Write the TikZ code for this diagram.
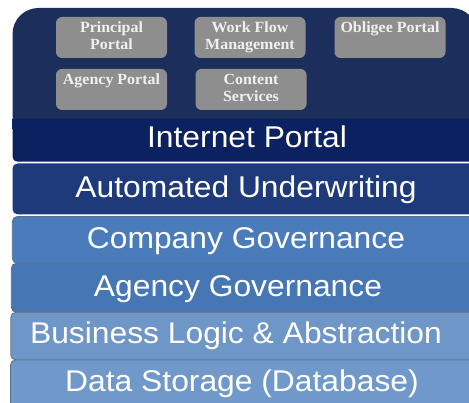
\documentclass[tikz,border=0pt]{standalone}
\usepackage{fontspec}
\usepackage{graphicx}
\setmainfont{Liberation Serif}
\setsansfont{Liberation Sans}
\definecolor{cTop}{HTML}{1B2E5C}
\definecolor{cBand}{HTML}{0B2160}
\definecolor{cAU}{HTML}{1F3A7B}
\definecolor{cCG}{HTML}{4A7BBA}
\definecolor{cAG}{HTML}{4676B3}
\definecolor{cBL}{HTML}{6E96C6}
\definecolor{cDS}{HTML}{7099C9}
\definecolor{cGray}{HTML}{8E8E8E}
\definecolor{cEdge}{HTML}{5D6F8A}
\newcommand\gstrut{\rule[-5pt]{0pt}{17pt}}
\newcommand\laytext[1]{\scalebox{1.06}[1]{#1}}
\newcommand\gtext[1]{\scalebox{1.03}[1]{#1}}
\begin{document}
\begin{tikzpicture}[x=1pt,y=-1pt,
  gbox/.style={fill=cGray, rounded corners=6pt, minimum width=111pt, minimum height=41pt,
    inner sep=0pt, align=center, text=white!94!black,
    font=\bfseries\fontsize{15.5}{17}\selectfont},
  layer/.style={rounded corners=5pt, inner sep=0pt},
  edged/.style={draw=cEdge, line width=0.8pt},
  laylabel/.style={anchor=base, inner sep=0pt, text=white,
    font=\sffamily\fontsize{30}{36}\selectfont}]
\useasboundingbox (0,0) rectangle (469,403);
\clip (0,0) rectangle (469,403);
\fill[white] (0,0) rectangle (469,403);
% portal background
\node[fill=cTop, rounded corners=26pt, minimum width=465pt, minimum height=142pt, inner sep=0pt]
  (pbg) at (245,79) {};
% internet portal band
\node[layer, fill=cBand, minimum width=472.5pt, minimum height=43pt] (ip) at (248.75,140.25) {};
\fill[cBand] (ip.north west) rectangle ([yshift=-10pt]ip.north east);
% layers
\node[layer, fill=cAU, minimum width=472.5pt, minimum height=50.8pt] (au) at (248.75,188.9) {};
\node[layer, edged, fill=cCG, minimum width=472.7pt, minimum height=46.8pt] (cg) at (248.65,239.9) {};
\node[layer, edged, fill=cAG, minimum width=473.7pt, minimum height=49pt] (ag) at (248.15,287.8) {};
\node[layer, edged, fill=cBL, minimum width=474.2pt, minimum height=47.7pt] (bl) at (247.9,336.15) {};
\node[layer, edged, fill=cDS, minimum width=474.5pt, minimum height=50pt] (ds) at (247.75,385) {};
% layer texts
\node[laylabel] (ipt) at (247,147.3) {\laytext{Internet Portal}};
\node[laylabel] (aut) at (246,197.8) {\laytext{Automated Underwriting}};
\node[laylabel] (cgt) at (246,249) {\laytext{Company Governance}};
\node[laylabel] (agt) at (238,297) {\laytext{Agency Governance}};
\node[laylabel] (blt) at (236,343.5) {\laytext{Business Logic \& Abstraction}};
\node[laylabel] (dst) at (242,392) {\laytext{Data Storage (Database)}};
% portal boxes
\node[gbox] (pp) at (111.5,37.5) {\gstrut\gtext{Principal}\\\gstrut\gtext{Portal}};
\node[gbox] (wf) at (250,37.5) {\gstrut\gtext{Work Flow}\\\gstrut\gtext{Management}};
\node[gbox] (op) at (390,37.5) {\gstrut\gtext{Obligee Portal}\\\gstrut};
\node[gbox] (ap) at (111.5,89.5) {\gstrut\gtext{Agency Portal}\\\gstrut};
\node[gbox] (cs) at (251,89.5) {\gstrut\gtext{Content}\\\gstrut\gtext{Services}};
\end{tikzpicture}
\end{document}
